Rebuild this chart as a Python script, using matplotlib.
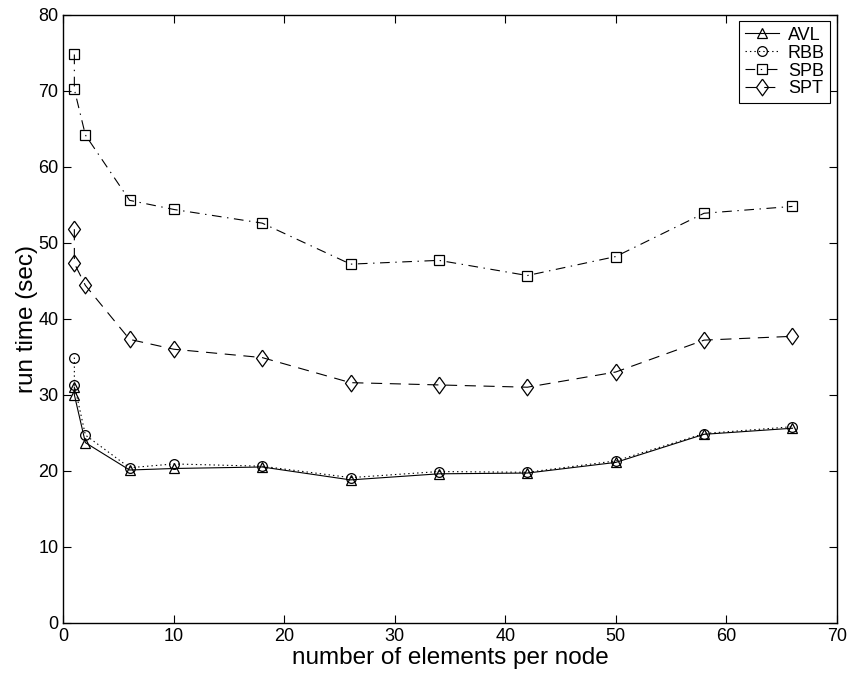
import matplotlib
matplotlib.use("Agg")
import matplotlib.pyplot as plt

plt.rcParams['font.family'] = ['Liberation Sans', 'DejaVu Sans']
plt.rcParams['lines.scale_dashes'] = False

# elements per node
x = [1, 1, 2, 6, 10, 18, 26, 34, 42, 50, 58, 66]

# run time (sec)
avl = [31.0, 30.0, 23.7, 20.1, 20.3, 20.5, 18.8, 19.6, 19.7, 21.1, 24.8, 25.6]
rbb = [34.9, 31.3, 24.7, 20.4, 20.9, 20.6, 19.1, 19.9, 19.8, 21.3, 24.9, 25.8]
spb = [74.8, 70.2, 64.2, 55.6, 54.4, 52.6, 47.2, 47.7, 45.7, 48.2, 53.9, 54.8]
spt = [51.8, 47.3, 44.4, 37.3, 36.0, 34.9, 31.6, 31.3, 31.0, 33.0, 37.2, 37.7]

# matlab-like diamond, a bit taller than wide
diamond = [(0, 1), (0.72, 0), (0, -1), (-0.72, 0), (0, 1)]

fig = plt.figure(figsize=(8.52, 6.81), dpi=100)
ax = fig.add_axes([0.0743, 0.0856, 0.9077, 0.8924])

style = dict(color='black', linewidth=0.8, markerfacecolor='none',
             markeredgecolor='black', markeredgewidth=0.9)
ax.plot(x, avl, '-', marker='^', markersize=7.5, label='AVL', **style)
ax.plot(x, rbb, marker='o', markersize=7, dashes=(1, 2.2), label='RBB', **style)
ax.plot(x, spb, marker='s', markersize=6.5, dashes=(7, 4, 1, 4), label='SPB', **style)
ax.plot(x, spt, marker=diamond, markersize=12, dashes=(8, 5.5), label='SPT', **style)

ax.set_xlim(0, 70)
ax.set_ylim(0, 80)
ax.set_xticks(range(0, 71, 10))
ax.set_yticks(range(0, 81, 10))
ax.tick_params(direction='in', top=True, right=True, labelsize=13, length=5.5, width=0.8)
for s in ax.spines.values():
    s.set_linewidth(1.0)

ax.set_xlabel('number of elements per node', fontsize=17.5, labelpad=2)
ax.set_ylabel('run time (sec)', fontsize=17.5, labelpad=0)

leg = ax.legend(loc='upper right', fontsize=13, handlelength=1.9, borderpad=0.3,
                labelspacing=0.05, handletextpad=0.5, fancybox=False,
                framealpha=1, edgecolor='black', borderaxespad=0.35)
leg.get_frame().set_linewidth(0.8)

plt.savefig('out.png', dpi=100)
